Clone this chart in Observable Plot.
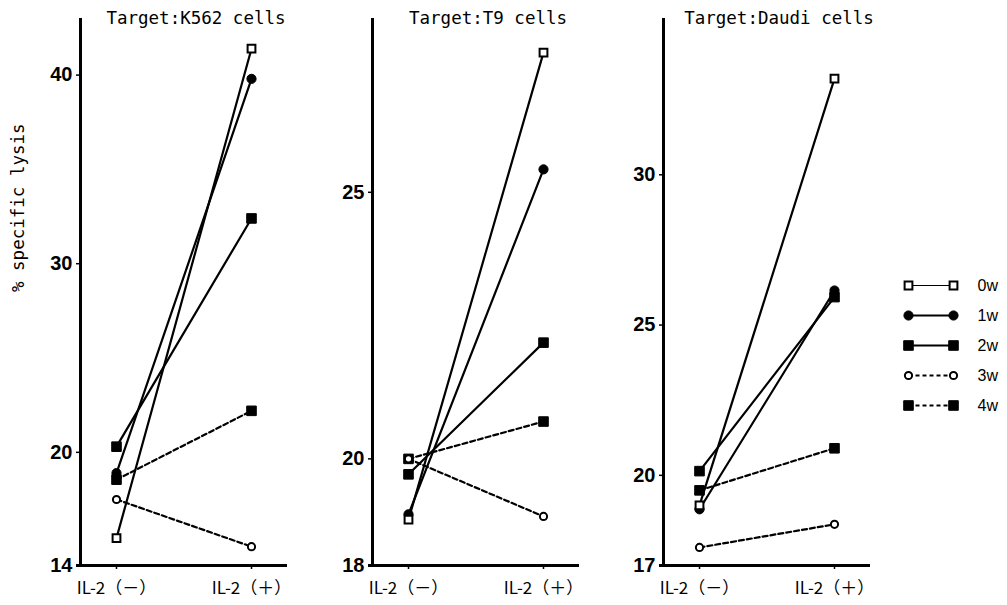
<!DOCTYPE html>
<html>
<head>
<meta charset="utf-8">
<script src="https://cdn.jsdelivr.net/npm/d3@7"></script>
<script src="https://cdn.jsdelivr.net/npm/@observablehq/plot@0.6"></script>
<style>
  html, body { margin: 0; padding: 0; background: white; }
  #chart { position: relative; width: 1007px; height: 605px; background: white; overflow: hidden; }
</style>
</head>
<body>
<div id="chart"></div>
<script>
// ---- data ----
const conditions = ["IL-2（－）", "IL-2（＋）"];
const series = ["0w", "1w", "2w", "3w", "4w"];

const k562Title = "Target:K562 cells";
const k562Minus = [15.45, 18.9, 20.3, 17.5, 18.55];
const k562Plus  = [41.4, 39.8, 32.4, 15.0, 22.2];
const k562Ticks = [14, 20, 30, 40];
const k562Domain = [14, 43];

const t9Title = "Target:T9 cells";
const t9Minus = [18.86, 18.96, 19.71, 20.0, 20.0];
const t9Plus  = [27.62, 25.43, 22.18, 18.92, 20.7];
const t9Ticks = [18, 20, 25];
const t9Domain = [18, 28.26];

const daudiTitle = "Target:Daudi cells";
const daudiMinus = [19.0, 18.87, 20.14, 17.6, 19.5];
const daudiPlus  = [33.2, 26.15, 25.93, 18.37, 20.9];
const daudiTicks = [17, 20, 25, 30];
const daudiDomain = [17, 35.2];

const yLabel = "% specific lysis";

// ---- styles ----
const monoFont = "'DejaVu Sans Mono', monospace";
const catFont = "'Noto Sans CJK JP', sans-serif";
const numFont = "'Liberation Sans Narrow', 'Liberation Sans', Arial, sans-serif";
const style = {
  "0w": {symbol: "square", fill: "white", dashed: false, r: 4.4, sw: 2},
  "1w": {symbol: "circle", fill: "black", dashed: false, r: 4.6, sw: 1},
  "2w": {symbol: "square", fill: "black", dashed: false, r: 5.4, sw: 1},
  "3w": {symbol: "circle", fill: "white", dashed: true,  r: 3.6, sw: 2},
  "4w": {symbol: "square", fill: "black", dashed: true,  r: 5.4, sw: 1}
};
const drawOrder = ["1w", "2w", "4w", "0w", "3w"];

function rowsFor(minus, plus) {
  return series.flatMap((s, i) => [
    {series: s, cond: conditions[0], value: minus[i]},
    {series: s, cond: conditions[1], value: plus[i]}
  ]);
}

function panel(title, minus, plus, ticks, domain, withLabel) {
  const rows = rowsFor(minus, plus);
  const marks = [
    Plot.ruleY([domain[0]], {stroke: "black", strokeWidth: 3, insetLeft: -4}),
    Plot.ruleX([conditions[0]], {stroke: "black", strokeWidth: 3, dx: -36}),
    Plot.axisY({ticks, tickSize: 4, tickPadding: 4, label: null, fontSize: 20, fontWeight: "bold", fontFamily: numFont, stroke: "black", strokeWidth: 1.5}),
    Plot.axisX({tickSize: 4, tickPadding: 12, label: null, fontSize: 17, fontFamily: catFont, strokeWidth: 1.5}),
    Plot.line(rows.filter(d => !style[d.series].dashed), {x: "cond", y: "value", z: "series", stroke: "black", strokeWidth: 2.2}),
    Plot.line(rows.filter(d => style[d.series].dashed), {x: "cond", y: "value", z: "series", stroke: "black", strokeWidth: 2.2, strokeDasharray: "5,3"})
  ];
  for (const s of drawOrder) {
    const st = style[s];
    marks.push(Plot.dot(rows.filter(d => d.series === s), {
      x: "cond", y: "value", symbol: st.symbol, r: st.r, fill: st.fill, stroke: "black", strokeWidth: st.sw
    }));
  }
  marks.push(Plot.text([title], {text: d => d, frameAnchor: "top", dx: 12, lineAnchor: "middle", fontSize: 17.5, fontFamily: monoFont}));
  if (withLabel) {
    marks.push(Plot.text([yLabel], {text: d => d, frameAnchor: "left", rotate: -90, dx: -62, fontSize: 17.5, fontFamily: monoFont}));
  }
  return Plot.plot({
    width: 300,
    height: 605,
    marginLeft: 80,
    marginRight: 13,
    marginTop: 18,
    marginBottom: 40,
    style: {background: "transparent", color: "black", overflow: "visible"},
    x: {type: "point", domain: conditions, padding: 0, inset: 36},
    y: {domain},
    marks
  });
}

function legend() {
  const marks = [];
  for (const s of series) {
    const st = style[s];
    marks.push(Plot.link([s], {x1: 0, x2: 1, y1: d => d, y2: d => d, stroke: "black",
      strokeWidth: s === "0w" ? 1.2 : 2.2, strokeDasharray: st.dashed ? "4,3" : null}));
    marks.push(Plot.dot([0, 1], {x: d => d, y: () => s, symbol: st.symbol, r: st.r, fill: st.fill, stroke: "black", strokeWidth: st.sw}));
  }
  marks.push(Plot.text(series, {x: 1, y: d => d, text: d => d, dx: 24, textAnchor: "start", fontSize: 16, fontFamily: "'Liberation Sans', Arial, sans-serif"}));
  return Plot.plot({
    width: 117, height: 160,
    marginLeft: 18, marginRight: 54, marginTop: 20, marginBottom: 20,
    style: {background: "transparent", color: "black", overflow: "visible"},
    x: {domain: [0, 1], axis: null},
    y: {type: "point", domain: series, padding: 0, axis: null},
    marks
  });
}

const chart = document.getElementById("chart");
const placements = [
  [panel(k562Title, k562Minus, k562Plus, k562Ticks, k562Domain, true), 0, 0],
  [panel(t9Title, t9Minus, t9Plus, t9Ticks, t9Domain, false), 292, 0],
  [panel(daudiTitle, daudiMinus, daudiPlus, daudiTicks, daudiDomain, false), 583, 0],
  [legend(), 890, 265]
];
for (const [el, left, top] of placements) {
  el.style.position = "absolute";
  el.style.left = left + "px";
  el.style.top = top + "px";
  chart.appendChild(el);
}
</script>
</body>
</html>
